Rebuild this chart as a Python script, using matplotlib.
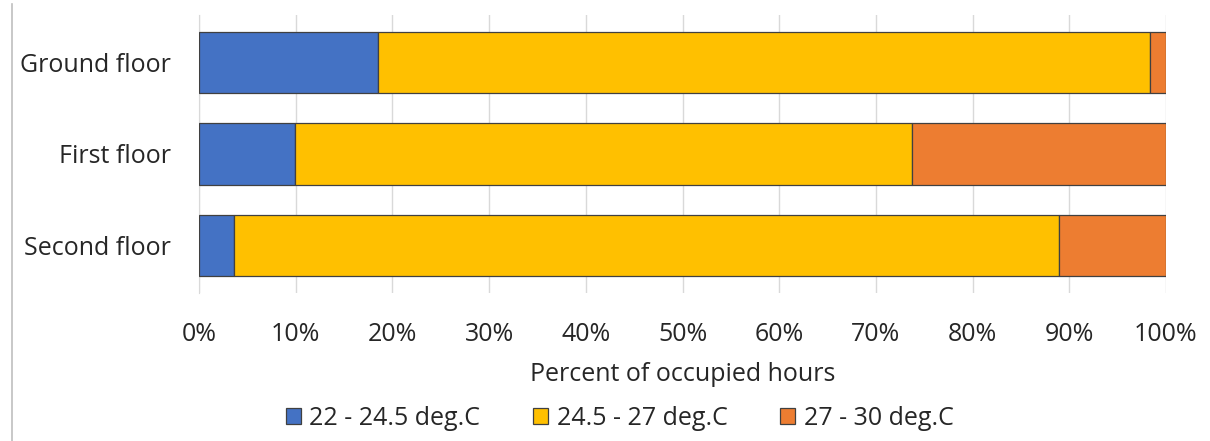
import matplotlib.pyplot as plt
import numpy as np
from matplotlib.lines import Line2D
from matplotlib.ticker import FuncFormatter, MultipleLocator

floors = ["Ground floor", "First floor", "Second floor"]
bands = ["22 - 24.5 deg.C", "24.5 - 27 deg.C", "27 - 30 deg.C"]
share_22_245 = [18.5, 9.9, 3.6]
share_245_27 = [79.9, 63.8, 85.3]
share_27_30 = [1.6, 26.3, 11.1]
colors = ["#4472C4", "#FFC000", "#ED7D31"]

plt.rcParams["font.family"] = ["Open Sans", "DejaVu Sans"]

fig = plt.figure(figsize=(12.1, 4.41), dpi=100)
ax = fig.add_axes([0.1645, 0.336, 0.7991, 0.630])

y = np.arange(len(floors))
left = np.zeros(len(floors))
for name, vals, color in zip(bands, [share_22_245, share_245_27, share_27_30], colors):
    ax.barh(y, vals, left=left, height=0.67, color=color, edgecolor="#404040",
            linewidth=0.9, label=name, zorder=3)
    left += np.array(vals)

ax.set_xlim(0, 100)
ax.set_ylim(len(floors) - 0.48, -0.52)
ax.set_yticks(y)
ax.set_yticklabels(floors, fontsize=18, color="#262626")
ax.xaxis.set_major_locator(MultipleLocator(10))
ax.xaxis.set_major_formatter(FuncFormatter(lambda v, _: f"{v:.0f}%"))
ax.tick_params(axis="x", labelsize=18, colors="#262626", length=0, pad=21)
ax.tick_params(axis="y", length=0, pad=20)
ax.grid(axis="x", color="#D9D9D9", linewidth=1, zorder=0)
for side in ["top", "right", "bottom"]:
    ax.spines[side].set_visible(False)
ax.spines["left"].set_color("#D9D9D9")
ax.set_xlabel("Percent of occupied hours", fontsize=18, color="#262626", labelpad=11)

fig.legend(loc="center", bbox_to_anchor=(0.512, 0.052), ncol=3, frameon=False,
           fontsize=18, handlelength=0.6, handleheight=0.6, handletextpad=0.35,
           columnspacing=2.1, labelcolor="#262626")

# thin frame line on the left edge of the chart area
fig.add_artist(Line2D([12 / 1210, 12 / 1210], [0, 0.99], color="#BFBFBF", linewidth=1.2))

fig.savefig("out.png", dpi=100)
